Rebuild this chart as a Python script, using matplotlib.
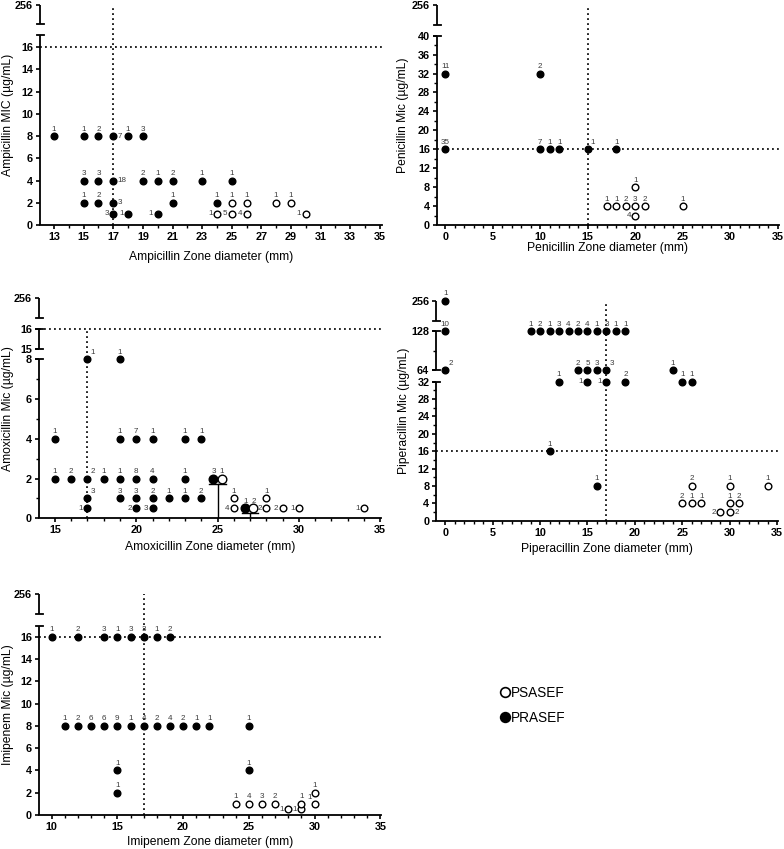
import numpy as np
import matplotlib
matplotlib.use("Agg")
import matplotlib.pyplot as plt
import matplotlib.transforms as mtransforms
from matplotlib.lines import Line2D

plt.rcParams['font.family'] = ['Liberation Sans', 'DejaVu Sans']

W, H = 784, 849

# ── data: x = zone diameter (mm), y = MIC (ug/mL), n = isolate count, pos = label side ──
# pos: a = above, r = right, l = left, u = upper right, v = upper left
AMP_R_X = [13, 15, 16, 17, 18, 19, 15, 16, 17, 19, 20, 21, 23, 25, 15, 16, 17, 21, 24, 17, 18, 20]
AMP_R_Y = [8, 8, 8, 8, 8, 8, 4, 4, 4, 4, 4, 4, 4, 4, 2, 2, 2, 2, 2, 1, 1, 1]
AMP_R_N = [1, 1, 2, 7, 1, 3, 3, 3, 18, 2, 1, 2, 1, 1, 1, 2, 3, 1, 1, 3, 1, 1]
AMP_R_POS = ["a", "a", "a", "r", "a", "a", "a", "a", "r", "a", "a", "a", "a", "a",
             "a", "a", "r", "a", "a", "l", "l", "l"]
AMP_S_X = [25, 26, 28, 29, 24, 25, 26, 30]
AMP_S_Y = [2, 2, 2, 2, 1, 1, 1, 1]
AMP_S_N = [1, 1, 1, 1, 1, 5, 4, 1]
AMP_S_POS = ["a", "a", "a", "a", "l", "l", "l", "l"]

PEN_R_X = [0, 10, 0, 10, 11, 12, 15, 18]
PEN_R_Y = [32, 32, 16, 16, 16, 16, 16, 16]
PEN_R_N = [11, 2, 35, 7, 1, 1, 1, 1]
PEN_R_POS = ["a", "a", "a", "a", "a", "a", "u", "a"]
PEN_S_X = [20, 17, 18, 19, 20, 21, 25, 20]
PEN_S_Y = [8, 4, 4, 4, 4, 4, 4, 2]
PEN_S_N = [1, 1, 1, 2, 3, 2, 1, 4]
PEN_S_POS = ["a", "a", "a", "a", "a", "a", "a", "l"]

AMX_R_X = [17, 19, 15, 19, 20, 21, 23, 24, 15, 16, 17, 18, 19, 20, 21, 23,
           17, 19, 20, 21, 22, 23, 24, 17, 20, 21]
AMX_R_Y = [8, 8, 4, 4, 4, 4, 4, 4, 2, 2, 2, 2, 2, 2, 2, 2,
           1, 1, 1, 1, 1, 1, 1, 0.5, 0.5, 0.5]
AMX_R_N = [1, 1, 1, 1, 7, 1, 1, 1, 1, 2, 2, 1, 1, 8, 4, 1,
           3, 3, 3, 2, 1, 1, 2, 1, 2, 3]
AMX_R_POS = ["u", "a", "a", "a", "a", "a", "a", "a", "a", "a", "u", "a", "a", "a", "a", "a",
             "u", "a", "a", "a", "a", "a", "a", "l", "l", "l"]
AMX_S_X = [26, 28, 26, 28, 29, 30, 34]
AMX_S_Y = [1, 1, 0.5, 0.5, 0.5, 0.5, 0.5]
AMX_S_N = [1, 1, 4, 2, 2, 1, 1]
AMX_S_POS = ["a", "a", "l", "l", "l", "l", "l"]
# overlapping groups drawn with larger markers and a bar
AMX_BIG_R_X = [24.75, 26.7]
AMX_BIG_R_Y = [2, 0.5]
AMX_BIG_R_N = [3, 1]
AMX_BIG_S_X = [25.27, 27.2]
AMX_BIG_S_Y = [2, 0.5]
AMX_BIG_S_N = [1, 2]
AMX_BAR_X = [25, 27]
AMX_BAR_Y = [2, 0.5]

PIP_R_X = [0, 0, 0, 9, 10, 11, 12, 13, 14, 15, 16, 17, 18, 19,
           14, 15, 16, 17, 24, 12, 15, 17, 19, 25, 26, 11, 16]
PIP_R_Y = [256, 128, 64, 128, 128, 128, 128, 128, 128, 128, 128, 128, 128, 128,
           64, 64, 64, 64, 64, 32, 32, 32, 32, 32, 32, 16, 8]
PIP_R_N = [1, 10, 2, 1, 2, 1, 3, 4, 2, 4, 1, 3, 1, 1,
           2, 5, 3, 3, 1, 1, 1, 1, 2, 1, 1, 1, 1]
PIP_R_POS = ["a", "a", "u", "a", "a", "a", "a", "a", "a", "a", "a", "a", "a", "a",
             "a", "a", "a", "u", "a", "a", "l", "l", "a", "a", "a", "a", "a"]
PIP_S_X = [26, 30, 34, 25, 26, 27, 30, 31, 29, 30]
PIP_S_Y = [8, 8, 8, 4, 4, 4, 4, 4, 2, 2]
PIP_S_N = [2, 1, 1, 2, 1, 1, 1, 2, 2, 2]
PIP_S_POS = ["a", "a", "a", "a", "a", "a", "a", "a", "l", "r"]

IMI_R_X = [10, 12, 14, 15, 16, 17, 18, 19,
           11, 12, 13, 14, 15, 16, 17, 18, 19, 20, 21, 22, 25, 15, 15, 25]
IMI_R_Y = [16, 16, 16, 16, 16, 16, 16, 16,
           8, 8, 8, 8, 8, 8, 8, 8, 8, 8, 8, 8, 8, 4, 2, 4]
IMI_R_N = [1, 2, 3, 1, 3, 3, 1, 2,
           1, 2, 6, 6, 9, 1, 4, 2, 4, 2, 1, 1, 1, 1, 1, 1]
IMI_R_POS = ["a"] * 24
IMI_S_X = [24, 25, 26, 27, 28, 29, 29, 30, 30]
IMI_S_Y = [1, 1, 1, 1, 0.5, 0.5, 1, 2, 1]
IMI_S_N = [1, 4, 3, 2, 1, 1, 1, 1, 1]
IMI_S_POS = ["a", "a", "a", "a", "l", "l", "a", "a", "v"]

# ── panel layout (pixel boxes, broken y-axis segments) ──
PANELS = [
    dict(box=(40, 382, 225, 4.7), xlim=(12.05, 35.15),
         xmaj=range(13, 36, 2), xmin=range(14, 35, 2),
         ymapd=[0, 17.1, 200, 256], ymapp=[225, 35, 24.3, 4.7],
         segs=[(0, 17.1), (200, 256)], caps=[17.1, 200],
         ymaj=list(range(0, 17, 2)) + [256], ymin=[],
         vline=(17, 256), xlab_y=257, ylab_x=8,
         xlabel="Ampicillin Zone diameter (mm)", ylabel="Ampicillin MIC (µg/mL)",
         data=[(AMP_R_X, AMP_R_Y, AMP_R_N, AMP_R_POS, True),
               (AMP_S_X, AMP_S_Y, AMP_S_N, AMP_S_POS, False)]),
    dict(box=(437, 778.7, 225, 4.7), xlim=(-0.88, 35.1),
         xmaj=range(0, 36, 5), xmin=range(0, 36),
         ymapd=[0, 40, 200, 256], ymapp=[225, 35.7, 24.7, 4.7],
         segs=[(0, 40), (200, 256)], caps=[40, 200],
         ymaj=list(range(0, 41, 4)) + [256], ymin=list(range(2, 40, 4)),
         vline=(15, 256), xlab_y=248, ylab_x=403,
         xlabel="Penicillin Zone diameter (mm)", ylabel="Penicillin Mic (µg/mL)",
         data=[(PEN_R_X, PEN_R_Y, PEN_R_N, PEN_R_POS, True),
               (PEN_S_X, PEN_S_Y, PEN_S_N, PEN_S_POS, False)]),
    dict(box=(39, 381, 518.3, 298.3), xlim=(14.02, 35.05),
         xmaj=range(15, 36, 5), xmin=range(15, 36),
         ymapd=[0, 8, 15, 16, 200, 256], ymapp=[518.3, 359.3, 349, 329.3, 318.3, 298.3],
         segs=[(0, 8), (15, 16), (200, 256)], caps=[8, 15, 16, 200],
         ymaj=[0, 2, 4, 6, 8, 15, 16, 256], ymin=[1, 3, 5, 7],
         vline=(17, 16), xlab_y=547.3, ylab_x=8,
         xlabel="Amoxicillin Zone diameter (mm)", ylabel="Amoxicillin Mic (µg/mL)",
         data=[(AMX_R_X, AMX_R_Y, AMX_R_N, AMX_R_POS, True),
               (AMX_S_X, AMX_S_Y, AMX_S_N, AMX_S_POS, False)]),
    dict(box=(436.3, 778, 520.7, 300.7), xlim=(-0.95, 35.1),
         xmaj=range(0, 36, 5), xmin=range(0, 36),
         ymapd=[0, 32, 64, 128, 200, 256], ymapp=[520.7, 381.7, 370, 331, 320.7, 300.7],
         segs=[(0, 32), (64, 128), (200, 256)], caps=[32, 64, 128, 200],
         ymaj=list(range(0, 33, 4)) + [64, 128, 256], ymin=list(range(2, 32, 4)) + [96],
         vline=(17, 256), xlab_y=549.3, ylab_x=404,
         xlabel="Piperacillin Zone diameter (mm)", ylabel="Piperacillin Mic (µg/mL)",
         data=[(PIP_R_X, PIP_R_Y, PIP_R_N, PIP_R_POS, True),
               (PIP_S_X, PIP_S_Y, PIP_S_N, PIP_S_POS, False)]),
    dict(box=(39, 381, 815, 594), xlim=(9.04, 35.05),
         xmaj=range(10, 36, 5), xmin=range(10, 36),
         ymapd=[0, 17, 200, 256], ymapp=[815, 625.5, 614, 594],
         segs=[(0, 17), (200, 256)], caps=[17, 200],
         ymaj=list(range(0, 17, 2)) + [256], ymin=[],
         vline=(17, 256), xlab_y=842, ylab_x=8,
         xlabel="Imipenem Zone diameter (mm)", ylabel="Imipenem Mic (µg/mL)",
         data=[(IMI_R_X, IMI_R_Y, IMI_R_N, IMI_R_POS, True),
               (IMI_S_X, IMI_S_Y, IMI_S_N, IMI_S_POS, False)]),
]

OFFS = {"a": ((0, 2.5), "center", "bottom"),
        "r": ((3.2, 0), "left", "center"),
        "l": ((-3.2, 0), "right", "center"),
        "u": ((2.2, 2.2), "left", "bottom"),
        "v": ((-2.2, 2.2), "right", "bottom")}

MS = 4.8
DOT = (0, (1.1, 1.9))


def label_points(ax, xs, ys, ns, pos):
    for x, y, n, p in zip(xs, ys, ns, pos):
        off, ha, va = OFFS[p]
        ax.annotate(str(n), (x, y), xytext=off, textcoords="offset points",
                    fontsize=5.8, color="#3a3a3a", ha=ha, va=va, zorder=4)


def scatter(ax, xs, ys, filled, ms=MS):
    ax.plot(xs, ys, "o", ls="none", ms=ms, mfc="black" if filled else "white",
            mec="black", mew=1.0, clip_on=False, zorder=3)


fig = plt.figure(figsize=(W / 100, H / 100), dpi=100)

for p in PANELS:
    left, right, bottom, top = p["box"]
    ax = fig.add_axes([left / W, 1 - bottom / H, (right - left) / W, (bottom - top) / H])
    d = np.array(p["ymapd"], float)
    f = bottom - np.array(p["ymapp"], float)
    ax.set_yscale("function", functions=(lambda v, d=d, f=f: np.interp(v, d, f),
                                         lambda v, d=d, f=f: np.interp(v, f, d)))
    ax.set_xlim(*p["xlim"])
    ax.set_ylim(0, 256)

    for s in ("left", "top", "right"):
        ax.spines[s].set_visible(False)
    ax.spines["bottom"].set_linewidth(1.3)

    # broken left axis drawn segment by segment
    tr = mtransforms.blended_transform_factory(ax.transAxes, ax.transData)
    for lo, hi in p["segs"]:
        ax.plot([0, 0], [lo, hi], color="black", lw=1.3, transform=tr, clip_on=False,
                solid_capstyle="butt")
    cap = 3.5 / (right - left)
    for c in p["caps"]:
        ax.plot([-cap, cap], [c, c], color="black", lw=1.3, transform=tr, clip_on=False)

    ax.set_xticks(list(p["xmaj"]))
    ax.set_xticks(list(p["xmin"]), minor=True)
    ax.set_yticks(p["ymaj"])
    ax.set_yticks(p["ymin"], minor=True)
    ax.set_yticklabels([str(v) for v in p["ymaj"]])
    ax.tick_params(which="major", length=3, width=1.2, labelsize=7.8, pad=2)
    ax.tick_params(which="minor", length=2, width=1.0)
    for lab in ax.get_xticklabels() + ax.get_yticklabels():
        lab.set_fontweight("bold")

    # breakpoint reference lines
    vx, vtop = p["vline"]
    ax.plot([vx, vx], [0, vtop], color="black", lw=1.2, ls=DOT, clip_on=False, zorder=2)
    ax.plot([p["xlim"][0], p["xlim"][1]], [16, 16], color="black", lw=1.2, ls=DOT,
            clip_on=False, zorder=2)

    for xs, ys, ns, pos, filled in p["data"]:
        scatter(ax, xs, ys, filled)
        label_points(ax, xs, ys, ns, pos)

    if p["xlabel"].startswith("Amoxicillin"):
        for bx, by in zip(AMX_BAR_X, AMX_BAR_Y):
            ax.plot([bx, bx], [0, by - 0.25], color="black", lw=1.0, zorder=2)
            ax.plot([bx - 0.5, bx + 0.5], [by - 0.25, by - 0.25], color="black", lw=1.0, zorder=2)
        scatter(ax, AMX_BIG_R_X, AMX_BIG_R_Y, True, ms=6.2)
        scatter(ax, AMX_BIG_S_X, AMX_BIG_S_Y, False, ms=6.2)
        label_points(ax, AMX_BIG_R_X, AMX_BIG_R_Y, AMX_BIG_R_N, ["a"] * 2)
        label_points(ax, AMX_BIG_S_X, AMX_BIG_S_Y, AMX_BIG_S_N, ["a"] * 2)

    ax.set_xlabel(p["xlabel"], fontsize=8.7, va="center")
    ax.set_ylabel(p["ylabel"], fontsize=8.7, va="center")
    ax.xaxis.set_label_coords(0.5, (bottom - p["xlab_y"]) / (bottom - top))
    ax.yaxis.set_label_coords((p["ylab_x"] - left) / (right - left), 0.5)

handles = [Line2D([], [], marker="o", ls="none", ms=7, mfc="white", mec="black", mew=1.2),
           Line2D([], [], marker="o", ls="none", ms=7, mfc="black", mec="black", mew=1.2)]
fig.legend(handles, ["PSASEF", "PRASEF"], loc="upper left",
           bbox_to_anchor=(494 / W, 1 - 679 / H), frameon=False, fontsize=9.8,
           handlelength=0.6, handletextpad=0.15, labelspacing=0.8, borderpad=0)

fig.savefig("out.png", dpi=100)
